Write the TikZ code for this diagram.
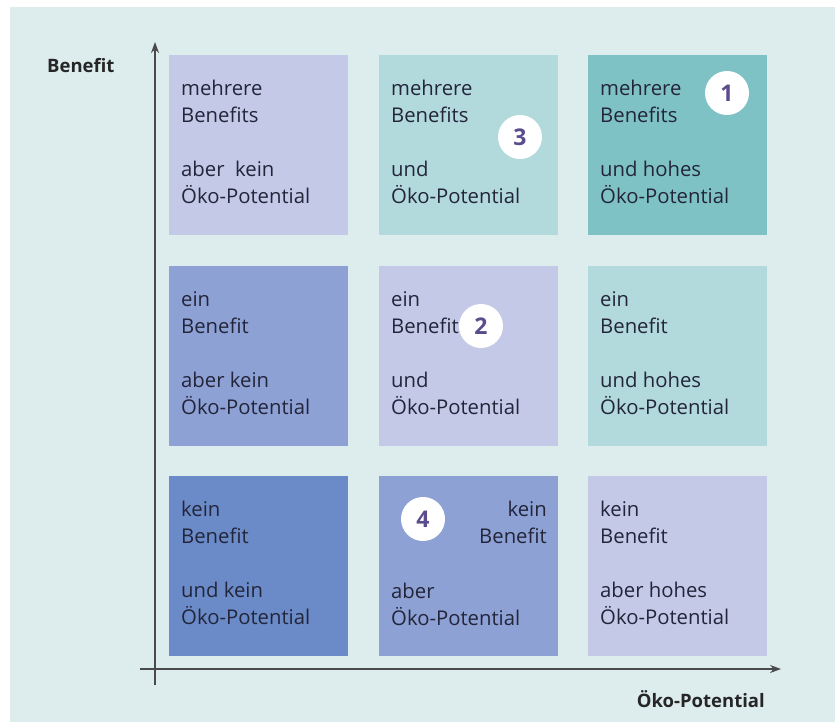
\documentclass[tikz,border=0pt]{standalone}
\usepackage{fontspec}
\setmainfont{Open Sans}
\usetikzlibrary{arrows.meta}
\definecolor{bgc}{HTML}{DDECED}
\definecolor{lav}{HTML}{C3C9E7}
\definecolor{lteal}{HTML}{B2D9DC}
\definecolor{teal}{HTML}{7FC2C5}
\definecolor{midb}{HTML}{8DA1D5}
\definecolor{darkb}{HTML}{6B8BC8}
\definecolor{txtc}{HTML}{23253A}
\definecolor{numc}{HTML}{5B4C8C}
\definecolor{axc}{HTML}{4A4A4A}
\tikzset{
  cell/.style={minimum width=179pt, minimum height=180pt, inner sep=0pt, anchor=north west, draw=none},
  txt/.style={font=\fontsize{20.3}{27}\selectfont, text=txtc, inner sep=0pt, align=left, anchor=north west},
  txtr/.style={font=\fontsize{20.3}{27}\selectfont, text=txtc, inner sep=0pt, align=right, anchor=north east},
  num/.style={circle, fill=white, minimum size=44pt, inner sep=0pt, font=\fontsize{23}{27}\selectfont\bfseries, text=numc},
  axis/.style={draw=axc, line width=1.1pt, -{Stealth[length=11pt,width=8pt]}},
  axlab/.style={font=\fontsize{18.5}{22}\selectfont\bfseries, text=black!85, inner sep=0pt}
}
\begin{document}
\begin{tikzpicture}[x=1pt,y=-1pt]
\useasboundingbox (0,0) rectangle (835,722);
\fill[bgc] (10,7) rectangle (835,722);
% cells
\node[cell, fill=lav]   (c11) at (169,55) {};
\node[cell, fill=lteal] (c12) at (379,55) {};
\node[cell, fill=teal]  (c13) at (588,55) {};
\node[cell, fill=midb]  (c21) at (169,266) {};
\node[cell, fill=lav]   (c22) at (379,266) {};
\node[cell, fill=lteal] (c23) at (588,266) {};
\node[cell, fill=darkb] (c31) at (169,476) {};
\node[cell, fill=midb]  (c32) at (379,476) {};
\node[cell, fill=lav]   (c33) at (588,476) {};
% texts
\node[txt] (t11) at (181,80) {mehrere\\Benefits\\[27pt]aber\ \ kein\\Öko-Potential};
\node[txt] (t12) at (391,80) {mehrere\\Benefits\\[27pt]und\\Öko-Potential};
\node[txt] (t13) at (600,80) {mehrere\\Benefits\\[27pt]und hohes\\Öko-Potential};
\node[txt] (t21) at (181,291) {ein\\Benefit\\[27pt]aber kein\\Öko-Potential};
\node[txt] (t22) at (391,291) {ein\\Benefit\\[27pt]und\\Öko-Potential};
\node[txt] (t23) at (600,291) {ein\\Benefit\\[27pt]und hohes\\Öko-Potential};
\node[txt] (t31) at (181,501) {kein\\Benefit\\[27pt]und kein\\Öko-Potential};
\node[txtr] (t32a) at (547,501) {kein\\Benefit};
\node[txt] (t32b) at (391,583) {aber\\Öko-Potential};
\node[txt] (t33) at (600,501) {kein\\Benefit\\[27pt]aber hohes\\Öko-Potential};
% numbers
\node[num] (n1) at (727,93) {1};
\node[num] (n3) at (520,137) {3};
\node[num] (n2) at (481,326) {2};
\node[num] (n4) at (423,519) {4};
% axes
\coordinate (yo) at (155,685);
\coordinate (yt) at (155,42);
\coordinate (xo) at (140,669);
\coordinate (xt) at (781,669);
\draw[axis] (yo) -- (yt);
\draw[axis] (xo) -- (xt);
\node[axlab, anchor=base west] (ly) at (47,73) {Benefit};
\node[axlab, anchor=base east] (lx) at (765,707) {Öko-Potential};
\end{tikzpicture}
\end{document}
